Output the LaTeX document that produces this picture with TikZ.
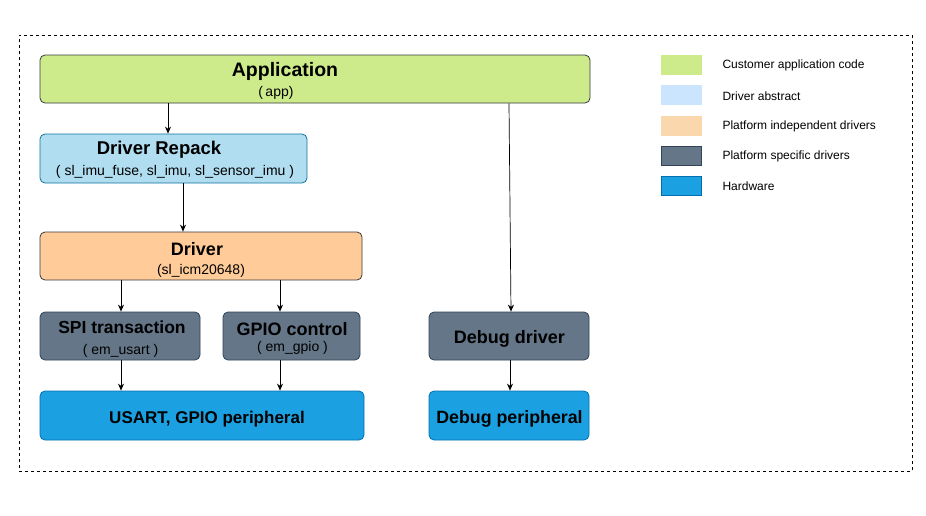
\documentclass[tikz,border=0pt]{standalone}
\usepackage{fontspec}
\setmainfont{Liberation Sans}
\usetikzlibrary{arrows.meta}
\definecolor{appfill}{HTML}{CDEB8B}
\definecolor{repfill}{HTML}{B1DDF0}
\definecolor{repline}{HTML}{10739E}
\definecolor{drvfill}{HTML}{FFCC99}
\definecolor{drvline}{HTML}{36393D}
\definecolor{psfill}{HTML}{647687}
\definecolor{psline}{HTML}{314354}
\definecolor{hwfill}{HTML}{1BA1E2}
\definecolor{hwline}{HTML}{006EAF}
\definecolor{absfill}{HTML}{CCE5FF}
\definecolor{pifill}{HTML}{FAD7AC}
\tikzset{
  box/.style={draw, rounded corners=5pt, line width=0.8pt, inner sep=0pt},
  swatch/.style={draw, line width=0.8pt, minimum width=40pt, minimum height=19pt, inner sep=0pt},
  arr/.style={-{Stealth[length=7pt,width=6pt]}, line width=0.7pt},
  ttl/.style={font=\bfseries\fontsize{17.5}{19}\selectfont},
  sub/.style={font=\fontsize{14}{16}\selectfont},
  leg/.style={font=\fontsize{12}{14}\selectfont, anchor=west},
}
\begin{document}
\begin{tikzpicture}[x=1pt,y=-1pt]
\useasboundingbox (0,0) rectangle (926,515);
\node[draw, dashed, line width=0.6pt, minimum width=893pt, minimum height=436pt, inner sep=0pt] (frame) at (465.5,253) {};

% Application
\node[box, fill=appfill, draw=drvline, minimum width=550pt, minimum height=48pt] (app) at (315,79) {};
\node[font=\bfseries\fontsize{19.5}{21}\selectfont] (appt) at (285,71) {Application};
\node[sub] (apps) at (276,93) {(\,app)};

% Driver Repack
\node[box, fill=repfill, draw=repline, minimum width=267pt, minimum height=49pt] (rep) at (173.5,158.5) {};
\node[font=\bfseries\fontsize{18.5}{20}\selectfont] (rept) at (159,150) {Driver Repack};
\node[sub] (reps) at (175,171.5) {( sl\_imu\_fuse, sl\_imu, sl\_sensor\_imu )};

% Driver
\node[box, fill=drvfill, draw=drvline, minimum width=322pt, minimum height=48pt] (drv) at (201,256) {};
\node[font=\bfseries\fontsize{18}{20}\selectfont] (drvt) at (197,249.5) {Driver};
\node[sub] (drvs) at (201,270.5) {(sl\_icm20648)};

% SPI transaction
\node[box, fill=psfill, draw=psline, minimum width=160pt, minimum height=48pt] (spi) at (120,336) {};
\node[ttl] (spit) at (122,327.5) {SPI transaction};
\node[sub] (spis) at (120.5,350.5) {( em\_usart )};

% GPIO control
\node[box, fill=psfill, draw=psline, minimum width=137pt, minimum height=48pt] (gpio) at (291.5,336) {};
\node[font=\bfseries\fontsize{18}{20}\selectfont] (gpiot) at (292,329.5) {GPIO control};
\node[sub] (gpios) at (292.5,347.5) {( em\_gpio )};

% USART, GPIO peripheral
\node[box, fill=hwfill, draw=hwline, minimum width=324pt, minimum height=49pt] (usart) at (202,415.5) {};
\node[font=\bfseries\fontsize{17}{19}\selectfont] (usartt) at (207,419.5) {USART, GPIO peripheral};

% Debug driver
\node[box, fill=psfill, draw=psline, minimum width=160pt, minimum height=48pt] (dbg) at (509,336) {};
\node[font=\bfseries\fontsize{18}{20}\selectfont] (dbgt) at (509.5,338.5) {Debug driver};

% Debug peripheral
\node[box, fill=hwfill, draw=hwline, minimum width=160pt, minimum height=49pt] (dbgp) at (509,415.5) {};
\node[font=\bfseries\fontsize{17.8}{20}\selectfont] (dbgpt) at (509.5,418.5) {Debug peripheral};

% arrows
\draw[arr] (app.south -| 168,0) -- (rep.north -| 168,0);
\draw[arr] (rep.south -| 183,0) -- (drv.north -| 183,0);
\draw[arr] (drv.south -| 121,0) -- (spi.north -| 121,0);
\draw[arr] (drv.south -| 280,0) -- (gpio.north -| 280,0);
\draw[arr] (spi.south -| 121,0) -- (usart.north -| 121,0);
\draw[arr] (gpio.south -| 280,0) -- (usart.north -| 280,0);
\draw[arr] (app.south -| 509,0) -- (dbg.north -| 511,0);
\draw[arr] (dbg.south -| 510,0) -- (dbgp.north -| 510,0);

% legend
\node[swatch, fill=appfill, draw=appfill] (s1) at (681,64.5) {};
\node[swatch, fill=absfill, draw=absfill] (s2) at (681,94.5) {};
\node[swatch, fill=pifill, draw=pifill] (s3) at (681,125.5) {};
\node[swatch, fill=psfill, draw=psline] (s4) at (681,155.5) {};
\node[swatch, fill=hwfill, draw=hwline] (s5) at (681,185.5) {};
\node[leg] (l1) at (719,65.5) {Customer application code};
\node[leg] (l2) at (719,96) {Driver abstract};
\node[leg] (l3) at (719,126.5) {Platform independent drivers};
\node[leg] (l4) at (719,156.5) {Platform specific drivers};
\node[leg] (l5) at (719,186.5) {Hardware};
\end{tikzpicture}
\end{document}
